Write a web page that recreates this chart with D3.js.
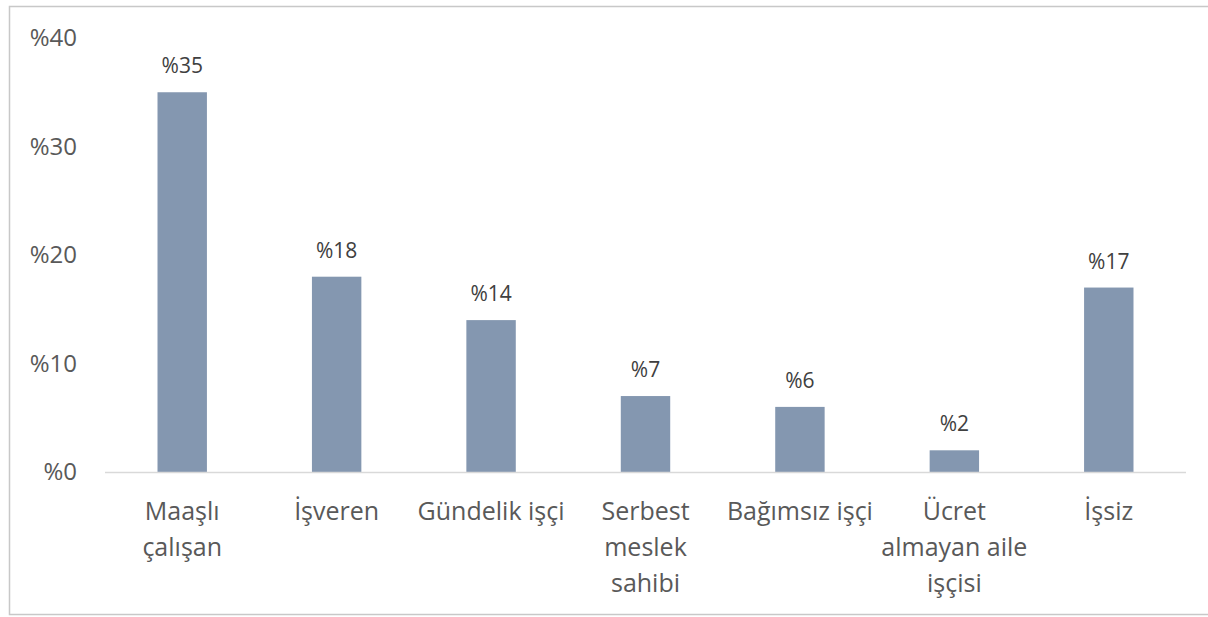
<!DOCTYPE html>
<html>
<head>
<meta charset="utf-8">
<script src="https://cdn.jsdelivr.net/npm/d3@7"></script>
<style>
  body { margin: 0; background: #fff; }
  text { font-family: "Open Sans", sans-serif; fill: #595959; }
</style>
</head>
<body>
<div id="container"></div>
<script>
// chart data
const categories = ["Maaşlı çalışan", "İşveren", "Gündelik işçi", "Serbest meslek sahibi",
                    "Bağımsız işçi", "Ücret almayan aile işçisi", "İşsiz"];
const values = [35, 18, 14, 7, 6, 2, 17];
const yTicks = [0, 10, 20, 30, 40];

// set dimensions
const w = 1208;
const h = 617;
const plotLeft = 105, plotRight = 1186, plotTop = 38, plotBottom = 472;

const svg = d3.select("#container")
              .append("svg")
              .attr("width", w)
              .attr("height", h);

// outer frame
svg.append("rect")
   .attr("x", 9.5)
   .attr("y", 6.5)
   .attr("width", 1205)
   .attr("height", 608)
   .attr("fill", "none")
   .attr("stroke", "#c8c8c8")
   .attr("stroke-width", 1.5);

// scales
const xScale = d3.scaleBand()
                 .domain(categories)
                 .range([plotLeft, plotRight])
                 .paddingInner(0.68)
                 .paddingOuter(0.34);
const yScale = d3.scaleLinear()
                 .domain([0, 40])
                 .range([plotBottom, plotTop]);

// y tick labels
svg.selectAll(".ytick")
   .data(yTicks)
   .enter()
   .append("text")
   .attr("class", "ytick")
   .attr("x", 77)
   .attr("y", (d) => yScale(d))
   .attr("dy", "0.35em")
   .attr("text-anchor", "end")
   .style("font-size", "24px")
   .text((d) => "%" + d);

// bars
svg.selectAll(".bar")
   .data(values)
   .enter()
   .append("rect")
   .attr("class", "bar")
   .attr("x", (d, i) => xScale(categories[i]))
   .attr("y", (d) => yScale(d))
   .attr("width", xScale.bandwidth())
   .attr("height", (d) => yScale(0) - yScale(d))
   .attr("fill", "#8497b0");

// data labels
svg.selectAll(".label")
   .data(values)
   .enter()
   .append("text")
   .attr("class", "label")
   .attr("x", (d, i) => xScale(categories[i]) + xScale.bandwidth() / 2)
   .attr("y", (d) => yScale(d) - 19)
   .attr("text-anchor", "middle")
   .style("font-size", "21px")
   .style("fill", "#404040")
   .text((d) => "%" + d);

// x axis line
svg.append("line")
   .attr("x1", plotLeft)
   .attr("x2", plotRight)
   .attr("y1", plotBottom + 0.5)
   .attr("y2", plotBottom + 0.5)
   .attr("stroke", "#d9d9d9")
   .attr("stroke-width", 1.5);

// category labels, wrapped to the band step
const maxLine = xScale.step() - 2;
categories.forEach(function(c, i){
    const cx = xScale(c) + xScale.bandwidth() / 2;
    const t = svg.append("text")
                 .attr("text-anchor", "middle")
                 .style("font-size", "25px");
    const words = c.split(" ");
    let line = [];
    let lineNo = 0;
    let tspan = t.append("tspan").attr("x", cx).attr("y", 520);
    words.forEach(function(word){
        line.push(word);
        tspan.text(line.join(" "));
        if (tspan.node().getComputedTextLength() > maxLine && line.length > 1) {
            line.pop();
            tspan.text(line.join(" "));
            line = [word];
            lineNo++;
            tspan = t.append("tspan").attr("x", cx).attr("y", 520 + lineNo * 36).text(word);
        }
    });
});
</script>
</body>
</html>
